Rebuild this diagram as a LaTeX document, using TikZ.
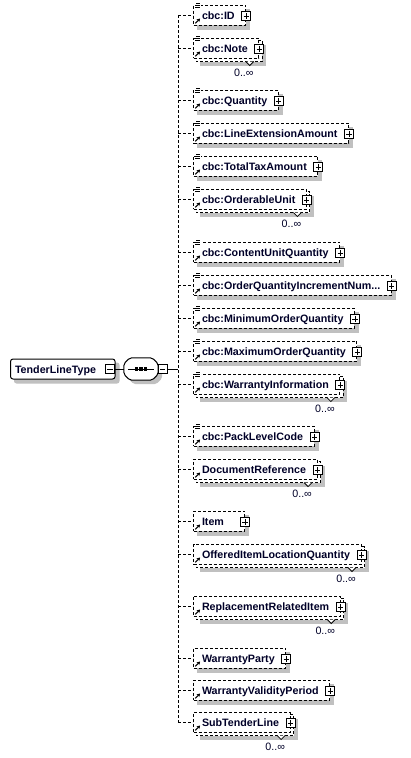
\documentclass[tikz,border=0pt]{standalone}
\usepackage{fontspec}
\setmainfont{Liberation Sans}
\usetikzlibrary{arrows.meta}
\definecolor{txt}{RGB}{0,0,40}
\definecolor{shd}{RGB}{192,192,192}
\pgfdeclarelayer{shadow}
\pgfdeclarelayer{back}
\pgfsetlayers{shadow,back,main}
\tikzset{
  dsh/.style={dash pattern=on 3pt off 2pt, line width=1pt},
  elembox/.style={draw, dsh, fill=white, inner xsep=0pt, inner ysep=0pt,
    minimum height=20pt, text height=10pt, text depth=1pt,
    font=\fontsize{10.7}{12}\selectfont\bfseries, text=txt},
  rootbox/.style={draw, line width=1pt, fill=white, rounded corners=2.5pt, inner sep=0pt,
    minimum height=20pt, text height=10pt, text depth=1pt,
    font=\fontsize{10.7}{12}\selectfont\bfseries, text=txt},
  pmbox/.style={draw, line width=0.8pt, fill=white, minimum size=9pt, inner sep=0pt},
  occ/.style={font=\fontsize{10.7}{12}\selectfont, text=txt, inner sep=0pt},
  pmline/.style={line width=0.8pt},
}
\newcommand\elemrow[5]{%
  \node[elembox, anchor=west] (#1) at (193,#2) {\hspace*{8.5pt}#3\hspace*{11pt}};
  \coordinate (#1-j) at (178,#2);
  \draw[dsh] (#1-j) -- (#1.west);
  \ifnum#5=1
    \begin{pgfonlayer}{back}
      \draw[dsh, fill=white] ([shift={(3pt,-3pt)}]#1.north west) rectangle ([shift={(3pt,-3pt)}]#1.south east);
    \end{pgfonlayer}
    \begin{pgfonlayer}{shadow}
      \fill[shd] ([shift={(7pt,-7pt)}]#1.north west) rectangle ([shift={(7pt,-7pt)}]#1.south east);
    \end{pgfonlayer}
    \draw[pmline, fill=white] ([shift={(-13.5pt,-3pt)}]#1.south east) -- ([shift={(-9.5pt,-7pt)}]#1.south east) -- ([shift={(-5.5pt,-3pt)}]#1.south east);
    \node[occ, anchor=base east] (#1-o) at ([shift={(-5.5pt,-18pt)}]#1.south east) {0..∞};
  \else
    \begin{pgfonlayer}{shadow}
      \fill[shd] ([shift={(4pt,-4pt)}]#1.north west) rectangle ([shift={(4pt,-4pt)}]#1.south east);
    \end{pgfonlayer}
  \fi
  \ifnum#4=1
    \fill[white] ([shift={(1.5pt,1.8pt)}]#1.north west) rectangle ([shift={(7.5pt,-4pt)}]#1.north west);
    \draw[pmline] ([shift={(3pt,0.8pt)}]#1.north west) -- ++(3.5pt,0pt)
                  ([shift={(2pt,-1.3pt)}]#1.north west) -- ++(5pt,0pt)
                  ([shift={(2pt,-3.3pt)}]#1.north west) -- ++(5pt,0pt);
  \fi
  \draw[line width=1.1pt, -{Stealth[length=3.4pt,width=3.8pt]}] ([shift={(2.3pt,2.2pt)}]#1.south west) -- ([shift={(7.2pt,7pt)}]#1.south west);
  \node[pmbox] (#1-p) at ([yshift=-1pt]#1.east) {};
  \draw[pmline] ([xshift=-2.6pt]#1-p.center) -- ([xshift=2.6pt]#1-p.center)
                ([yshift=-2.6pt]#1-p.center) -- ([yshift=2.6pt]#1-p.center);
}
\begin{document}
\begin{tikzpicture}[x=1pt,y=-1pt]
\useasboundingbox (0,0) rectangle (410,758);
\begin{pgfonlayer}{shadow}
  \fill[white] (0,0) rectangle (410,758);
\end{pgfonlayer}
% root element
\node[rootbox, anchor=west] (root) at (10,369) {\hspace*{4.5pt}TenderLineType\hspace*{19pt}};
\begin{pgfonlayer}{shadow}
  \fill[shd, rounded corners=2.5pt] ([shift={(4pt,-4pt)}]root.north west) rectangle ([shift={(4pt,-4pt)}]root.south east);
\end{pgfonlayer}
\node[pmbox] (root-m) at ([xshift=-5.5pt]root.east) {};
\draw[pmline] ([xshift=-2.6pt]root-m.center) -- ([xshift=2.6pt]root-m.center);
% sequence compositor
\node[inner sep=0pt, minimum width=34pt, minimum height=22pt] (seq) at (141,369) {};
\begin{pgfonlayer}{shadow}
  \fill[shd, rounded corners=2pt] ([shift={(10pt,-4pt)}]seq.north west) -- ([shift={(-2pt,-4pt)}]seq.north east) -- ([shift={(4pt,-10pt)}]seq.north east) -- ([shift={(4pt,2pt)}]seq.south east) -- ([shift={(-2pt,-4pt)}]seq.south east) -- ([shift={(10pt,-4pt)}]seq.south west) -- ([shift={(4pt,2pt)}]seq.south west) -- ([shift={(4pt,-10pt)}]seq.north west) -- cycle;
\end{pgfonlayer}
\draw[line width=1pt, fill=white, rounded corners=2pt] ([xshift=6pt]seq.north west) -- ([xshift=-6pt]seq.north east) -- ([yshift=-6pt]seq.north east) -- ([yshift=6pt]seq.south east) -- ([xshift=-6pt]seq.south east) -- ([xshift=6pt]seq.south west) -- ([yshift=6pt]seq.south west) -- ([yshift=-6pt]seq.north west) -- cycle;
\draw[line width=1pt] ([xshift=4pt]seq.west) -- ([xshift=-4pt]seq.east);
\foreach \dx in {-4.5,0,4.5} {
  \fill ([shift={(\dx pt-1.6pt,-1.6pt)}]seq.center) rectangle ++(3.2pt,3.2pt);
}
\node[pmbox] (seq-m) at ([xshift=4.5pt]seq.east) {};
\draw[pmline] ([xshift=-2.6pt]seq-m.center) -- ([xshift=2.6pt]seq-m.center);
\draw[line width=1pt] (root-m.east) -- (seq.west);
\coordinate (spm) at (178,369);
\draw[line width=1pt] (seq-m.east) -- (spm);
% children
\elemrow{id}{15}{cbc:ID}{1}{0}
\elemrow{note}{48}{cbc:Note}{1}{1}
\elemrow{qty}{100}{cbc:Quantity}{1}{0}
\elemrow{lea}{133}{cbc:LineExtensionAmount}{1}{0}
\elemrow{tta}{166}{cbc:TotalTaxAmount}{1}{0}
\elemrow{ou}{199}{cbc:OrderableUnit}{1}{1}
\elemrow{cuq}{252}{cbc:ContentUnitQuantity}{1}{0}
\elemrow{oqin}{285}{cbc:OrderQuantityIncrementNum...}{1}{0}
\elemrow{minoq}{318}{cbc:MinimumOrderQuantity}{1}{0}
\elemrow{maxoq}{351}{cbc:MaximumOrderQuantity}{1}{0}
\elemrow{wi}{384}{cbc:WarrantyInformation}{1}{1}
\elemrow{plc}{436}{cbc:PackLevelCode}{1}{0}
\elemrow{dr}{469}{DocumentReference}{0}{1}
\elemrow{item}{521}{Item\hspace*{9.5pt}}{0}{0}
\elemrow{oilq}{554}{OfferedItemLocationQuantity}{0}{1}
\elemrow{rri}{606}{ReplacementRelatedItem}{0}{1}
\elemrow{wp}{658}{WarrantyParty}{0}{0}
\elemrow{wvp}{690}{WarrantyValidityPeriod}{0}{0}
\elemrow{stl}{722}{SubTenderLine}{0}{1}
% spine
\draw[dsh] (id-j) -- (stl-j);
\end{tikzpicture}
\end{document}
